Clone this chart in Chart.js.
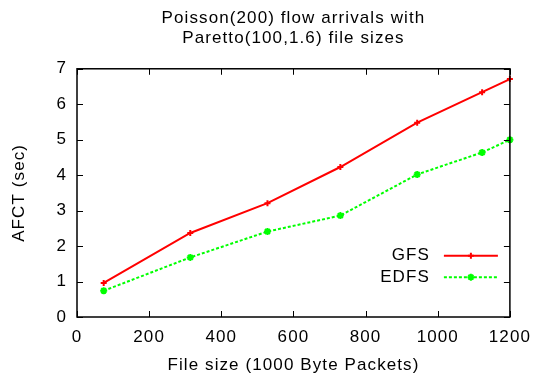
<!DOCTYPE html>
<html>
<head>
<meta charset="utf-8">
<script src="https://cdn.jsdelivr.net/npm/chart.js@4.4.0/dist/chart.umd.min.js"></script>
<style>
  body { margin: 0; background: #fff; }
  canvas { display: block; }
</style>
</head>
<body>
<canvas id="myChart" width="541" height="385"></canvas>
<script>
// values
var fileSizes = [74, 314, 528, 730, 943, 1123, 1200];
var gfsAfct = [0.96, 2.37, 3.21, 4.23, 5.48, 6.34, 6.71];
var edfsAfct = [0.74, 1.68, 2.41, 2.86, 4.02, 4.64, 5.0];
var xTicks = [0, 200, 400, 600, 800, 1000, 1200];
var yTicks = [0, 1, 2, 3, 4, 5, 6, 7];

var FONT = 'Liberation Sans, Arial, sans-serif';
var SIZE = 17;
var SPACING = '1.1px';

// the reference text is a bit wider than Liberation Sans, so add letter spacing
var spacingPlugin = {
    id: 'spacing',
    beforeLayout: function(chart) { chart.ctx.letterSpacing = SPACING; },
    beforeDraw: function(chart) { chart.ctx.letterSpacing = SPACING; }
};

// gnuplot-like frame: box round the plot with inward ticks on all sides
var framePlugin = {
    id: 'frame',
    afterDatasetsDraw: function(chart) {
        var ctx = chart.ctx;
        var a = chart.chartArea;
        var xs = chart.scales.x, ys = chart.scales.y;
        ctx.save();
        ctx.strokeStyle = '#000';
        ctx.lineWidth = 1;
        ctx.beginPath();
        xTicks.forEach(function(v) {
            var px = Math.round(xs.getPixelForValue(v)) + 0.5;
            ctx.moveTo(px, a.bottom); ctx.lineTo(px, a.bottom - 6);
            ctx.moveTo(px, a.top); ctx.lineTo(px, a.top + 6);
        });
        yTicks.forEach(function(v) {
            var py = Math.round(ys.getPixelForValue(v)) + 0.5;
            ctx.moveTo(a.left, py); ctx.lineTo(a.left + 6, py);
            ctx.moveTo(a.right, py); ctx.lineTo(a.right - 6, py);
        });
        ctx.stroke();
        ctx.lineWidth = 1.5;
        ctx.strokeRect(a.left, a.top, a.right - a.left, a.bottom - a.top);

        // legend inside bottom right
        var items = chart.data.datasets;
        var textRight = a.right - 80;
        var lineStart = a.right - 66, lineEnd = a.right - 12;
        var y0 = ys.getPixelForValue(1.73);
        ctx.font = SIZE + 'px ' + FONT;
        ctx.textAlign = 'right';
        ctx.textBaseline = 'middle';
        items.forEach(function(ds, i) {
            var y = y0 + i * 21.5;
            ctx.fillStyle = '#000';
            ctx.fillText(ds.label, textRight, y);
            ctx.strokeStyle = ds.borderColor;
            ctx.lineWidth = ds.borderWidth;
            ctx.setLineDash(ds.borderDash || []);
            ctx.beginPath();
            ctx.moveTo(lineStart, y); ctx.lineTo(lineEnd, y);
            ctx.stroke();
            ctx.setLineDash([]);
            Chart.helpers.drawPoint(ctx, {
                pointStyle: ds.pointStyle, radius: ds.pointRadius,
                borderWidth: 2
            }, (lineStart + lineEnd) / 2, y);
        });
        ctx.restore();
    }
};

var ctx = document.getElementById('myChart').getContext('2d');
var myChart = new Chart(ctx, {
    type: 'line',
    data: {
        datasets: [
            {
                label: 'GFS',
                data: fileSizes.map(function(x, i) { return { x: x, y: gfsAfct[i] }; }),
                borderColor: '#ff0000',
                backgroundColor: '#ff0000',
                borderWidth: 2,
                pointStyle: 'cross',
                pointRadius: 3,
                pointBorderWidth: 2,
                tension: 0
            },
            {
                label: 'EDFS',
                data: fileSizes.map(function(x, i) { return { x: x, y: edfsAfct[i] }; }),
                borderColor: '#00ff00',
                backgroundColor: '#00ff00',
                borderWidth: 2,
                borderDash: [3, 2],
                pointStyle: 'star',
                pointRadius: 3.5,
                pointBorderWidth: 2,
                tension: 0
            }
        ]
    },
    options: {
        responsive: false,
        animation: false,
        clip: false,
        layout: { padding: { left: 0, right: 29, top: 0, bottom: 0 } },
        plugins: {
            legend: { display: false },
            tooltip: { enabled: false },
            title: {
                display: true,
                fullSize: false,
                text: ['Poisson(200) flow arrivals with', 'Paretto(100,1.6) file sizes'],
                color: '#000',
                font: { family: FONT, size: SIZE, weight: 'normal', lineHeight: 1.17 },
                padding: { top: 8, bottom: 21 }
            }
        },
        scales: {
            x: {
                type: 'linear',
                min: 0,
                max: 1200,
                afterBuildTicks: function(s) { s.ticks = xTicks.map(function(v) { return { value: v }; }); },
                afterFit: function(s) { s.height = 68; },
                grid: { display: false, drawTicks: false },
                border: { display: false },
                ticks: {
                    color: '#000', font: { family: FONT, size: SIZE }, padding: 10, maxRotation: 0,
                    callback: function(v) { return String(v); }
                },
                title: {
                    display: true,
                    text: 'File size (1000 Byte Packets)',
                    color: '#000',
                    font: { family: FONT, size: SIZE },
                    padding: { top: 4, bottom: 9 }
                }
            },
            y: {
                type: 'linear',
                min: 0,
                max: 7,
                afterBuildTicks: function(s) { s.ticks = yTicks.map(function(v) { return { value: v }; }); },
                afterFit: function(s) { s.width = 77; },
                grid: { display: false, drawTicks: false },
                border: { display: false },
                ticks: {
                    color: '#000', font: { family: FONT, size: SIZE }, padding: 10,
                    callback: function(v) { return String(v); }
                },
                title: {
                    display: true,
                    text: 'AFCT (sec)',
                    color: '#000',
                    font: { family: FONT, size: SIZE },
                    padding: { top: 9, bottom: 0 }
                }
            }
        }
    },
    plugins: [spacingPlugin, framePlugin]
});
</script>
</body>
</html>
